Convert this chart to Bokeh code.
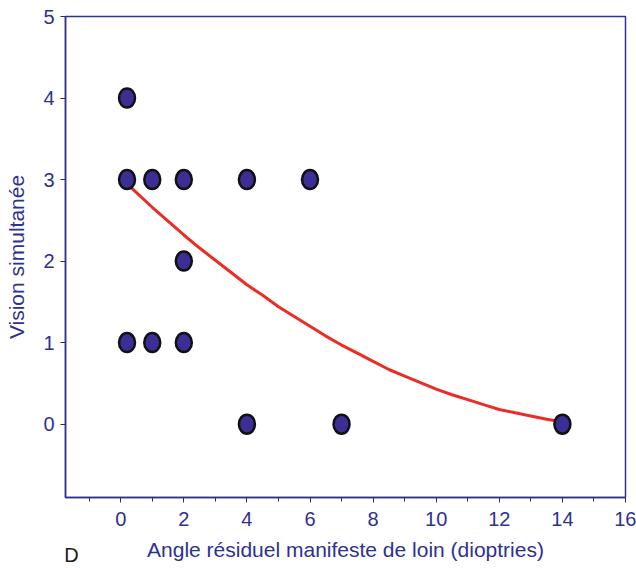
from bokeh.plotting import figure
from bokeh.models import Range1d, FixedTicker, LinearAxis
from bokeh.embed import file_html
from bokeh.resources import INLINE

# data
pts_x = [0.2, 0.2, 1, 2, 4, 6, 2, 0.2, 1, 2, 4, 7, 14]
pts_y = [4, 3, 3, 3, 3, 3, 2, 1, 1, 1, 0, 0, 0]
curve_x = [0.2, 0.5, 1, 1.5, 2, 2.5, 3, 3.5, 4, 4.5, 5, 5.5, 6, 6.5, 7, 7.5, 8, 8.5, 9, 9.5,
           10, 10.5, 11, 11.5, 12, 12.5, 13, 13.5, 14]
curve_y = [2.95, 2.84, 2.66, 2.49, 2.32, 2.16, 2.01, 1.86, 1.71, 1.58, 1.44, 1.32, 1.20, 1.08,
           0.97, 0.87, 0.77, 0.67, 0.59, 0.51, 0.43, 0.36, 0.30, 0.24, 0.18, 0.14, 0.10, 0.06, 0.03]
x_ticks = [0, 2, 4, 6, 8, 10, 12, 14, 16]
x_minor = [-1, 1, 3, 5, 7, 9, 11, 13, 15]
y_ticks = [0, 1, 2, 3, 4, 5]
panel_tag = "D"

BLUE = "#2e3192"
FONT = "Liberation Sans"

p = figure(width=636, height=568, output_backend="svg", toolbar_location=None,
           x_range=Range1d(-1.75, 16), y_range=Range1d(-0.9, 5),
           min_border_left=65, min_border_right=11, min_border_top=16, min_border_bottom=70)
p.grid.visible = False
p.outline_line_color = BLUE
p.outline_line_width = 1.5
p.background_fill_color = "white"
p.border_fill_color = "white"

p.xaxis.ticker = FixedTicker(ticks=x_ticks, minor_ticks=x_minor)
p.yaxis.ticker = FixedTicker(ticks=y_ticks, minor_ticks=[])

for ax in (p.xaxis[0], p.yaxis[0]):
    ax.axis_line_color = BLUE
    ax.axis_line_width = 1.5
    ax.major_tick_line_color = "#333333"
    ax.minor_tick_line_color = "#333333"
    ax.major_tick_in = 0
    ax.major_tick_out = 5
    ax.minor_tick_in = 0
    ax.minor_tick_out = 4
    ax.major_label_text_color = BLUE
    ax.major_label_text_font = FONT
    ax.major_label_text_font_size = "20px"
    ax.axis_label_text_color = BLUE
    ax.axis_label_text_font = FONT
    ax.axis_label_text_font_size = "21px"
    ax.axis_label_text_font_style = "normal"

p.xaxis.axis_label = "Angle résiduel manifeste de loin (dioptries)"
p.yaxis.axis_label = "Vision simultanée"
p.xaxis.major_label_standoff = 9
p.yaxis.major_label_standoff = 6
p.xaxis.axis_label_standoff = 9
p.yaxis.axis_label_standoff = 12

# panel letter "D", drawn as the only label of a bare extra axis below the x axis
p.extra_x_ranges = {"tag": Range1d(65, 625)}
tag_axis = LinearAxis(x_range_name="tag",
                      ticker=FixedTicker(ticks=[71], minor_ticks=[]),
                      major_label_overrides={71: panel_tag},
                      axis_line_color=None,
                      major_tick_line_color=None,
                      minor_tick_line_color=None,
                      major_tick_out=0, major_tick_in=0,
                      minor_tick_out=0, minor_tick_in=0,
                      major_label_standoff=-20,
                      major_label_text_color="#1a1a1a",
                      major_label_text_font=FONT,
                      major_label_text_font_size="20px")
p.add_layout(tag_axis, "below")

p.line(curve_x, curve_y, line_color="#ec2d26", line_width=3)
p.ellipse(pts_x, pts_y, width=16, height=19, width_units="screen", height_units="screen",
          fill_color="#3b2f96", line_color="#111111", line_width=2.5)

open("out.html", "w").write(file_html(p, INLINE))
